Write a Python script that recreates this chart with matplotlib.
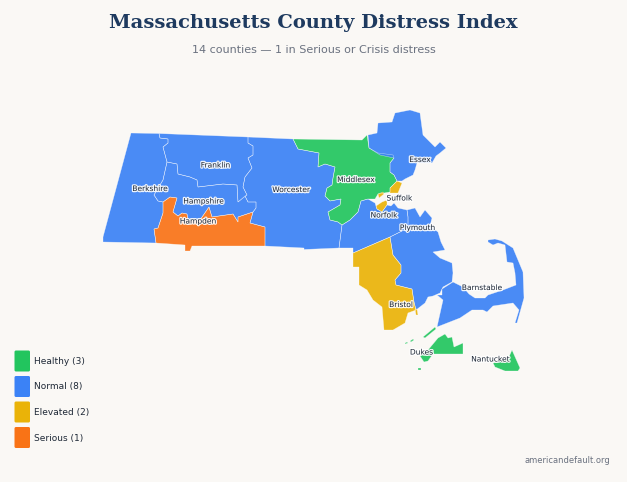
import matplotlib
matplotlib.use("Agg")
import matplotlib.pyplot as plt
from matplotlib.patches import FancyBboxPatch
import matplotlib.patheffects as pe

BG = "#faf8f5"
STATUS_COLORS = {"Healthy": "#22c55e", "Normal": "#3b82f6", "Elevated": "#eab308", "Serious": "#f97316"}

# county outlines, in map units
berkshire = [[(131, 133), (159, 133.5), (160, 138), (168, 139), (168, 143), (163, 147), (167, 162), (163, 180),
              (154, 195), (158, 201), (163, 202), (163, 213), (158, 228), (154, 229), (156, 243), (103, 242), (103, 237)]]
franklin = [[(159, 133.5), (248, 137), (248, 143), (253, 146), (253, 155), (248, 158), (252, 168), (245, 177),
             (243, 187), (247, 195), (238, 202), (237, 185), (223, 184), (198, 187), (197, 180), (190, 177),
             (178, 174), (177, 164), (167, 162), (163, 147), (168, 143), (168, 139), (160, 138)]]
hampshire = [[(167, 162), (177, 164), (178, 174), (190, 177), (197, 180), (198, 187), (223, 184), (237, 185),
              (238, 202), (245, 196), (248, 202), (256, 202), (256, 208), (253, 212), (238, 217), (238, 222),
              (233, 214), (212, 217), (209, 207), (200, 220), (188, 220), (187, 214), (182, 213), (178, 216),
              (173, 212), (177, 198), (170, 197), (163, 202), (158, 201), (154, 195), (163, 180)]]
hampden = [[(163, 202), (170, 197), (177, 198), (173, 212), (178, 216), (182, 213), (187, 214), (188, 220),
            (200, 220), (209, 207), (212, 217), (233, 214), (238, 222), (238, 217), (253, 212), (250, 223),
            (265, 227), (265, 246), (192, 246), (190, 251), (185, 251), (185, 245), (156, 243), (154, 229),
            (158, 228), (163, 213)]]
worcester = [[(248, 137), (293, 139), (298, 149), (319, 153), (318, 167), (325, 164), (335, 167), (333, 178),
              (332, 185), (327, 188), (325, 196), (330, 201), (341, 199), (340, 205), (328, 212), (330, 220),
              (338, 222), (342, 225), (339, 248), (304, 249.5), (304, 248), (265, 246), (265, 227), (250, 223),
              (253, 212), (256, 208), (256, 202), (248, 202), (245, 196), (247, 195), (243, 187), (245, 177),
              (252, 168), (248, 158), (253, 155), (253, 146), (248, 143)]]
middlesex = [[(293, 139), (362, 140), (367, 135), (369, 148), (378, 153), (393, 155), (394, 158), (390, 163),
              (390, 172), (394, 175), (397, 181), (390, 188), (390, 192), (378, 194), (375, 199), (368, 199),
              (361, 201), (358, 212), (350, 220), (342, 225), (338, 222), (330, 220), (328, 212), (340, 205),
              (341, 199), (330, 201), (325, 196), (327, 188), (332, 185), (333, 178), (335, 167), (325, 164),
              (318, 167), (319, 153), (298, 149)]]
essex = [[(368, 135), (377, 133), (378, 123), (392, 122), (395, 113), (410, 110), (420, 113), (423, 135), (435, 147),
          (440, 142), (446, 148), (440, 153), (436, 156), (432, 163), (417, 163), (415, 170), (413, 175), (405, 179),
          (402, 181), (397, 181), (394, 175), (390, 172), (390, 163), (394, 158), (380, 155), (369, 148)]]
suffolk = [[(390, 188), (397, 181), (402, 183), (398, 193), (390, 193)],
           [(378, 194), (383, 192), (384, 194), (379, 198)],
           [(376, 206), (382, 202), (387, 200), (387, 205), (382, 212), (377, 209)]]
norfolk = [[(342, 225), (350, 220), (358, 212), (361, 201), (368, 199), (375, 203), (376, 206), (377, 209),
            (382, 212), (387, 205), (391, 206), (394, 203), (398, 208), (407, 210), (408, 217), (408, 228),
            (390, 237), (353, 253), (353, 248), (339, 248)]]
plymouth = [[(407, 210), (415, 208), (420, 217), (425, 210), (432, 218), (430, 226), (438, 232), (441, 242),
             (445, 250), (433, 252), (440, 258), (452, 263), (453, 273), (452, 282), (443, 287), (440, 293),
             (433, 296), (428, 297), (425, 303), (416, 310), (414, 302), (412, 289), (396, 285), (395, 280),
             (401, 273), (401, 265), (393, 255), (390, 237), (408, 228), (408, 217)]]
bristol = [[(353, 253), (390, 237), (393, 255), (401, 265), (401, 273), (395, 280), (396, 285), (412, 289),
            (414, 302), (416, 310), (408, 313), (405, 323), (393, 330), (384, 330), (382, 307), (373, 300),
            (367, 290), (359, 285), (359, 267), (353, 267)],
           [(415, 309), (417, 309), (418, 315), (416, 315)]]
barnstable = [[(453, 282), (442, 289), (442, 295), (437, 295), (443, 300), (437, 327), (460, 318), (472, 310),
               (483, 310), (487, 312), (493, 306), (513, 303), (519, 310), (515, 323), (517, 323), (524, 298),
               (523, 272), (513, 248), (502, 241), (495, 239), (488, 240), (488, 242), (493, 245), (498, 243),
               (505, 245), (507, 262), (513, 263), (515, 273), (516, 285), (503, 290), (488, 295), (485, 298),
               (475, 298), (469, 294), (463, 287)]]
dukes = [[(428, 350), (438, 338), (445, 334), (448, 338), (452, 337), (454, 347), (463, 343), (463, 354),
          (433, 354), (428, 361), (424, 362), (420, 356)],
         [(423, 337), (435, 327), (436, 329), (425, 338)],
         [(410, 341), (413, 339), (414, 340), (411, 342)],
         [(405, 343), (407, 342), (408, 343), (405, 344)],
         [(418, 368), (421, 368), (421, 370), (418, 370)]]
nantucket = [[(493, 363), (498, 362), (508, 359), (512, 350), (520, 368), (518, 371), (505, 371), (495, 367)]]

county_names = ["Berkshire", "Franklin", "Hampshire", "Hampden", "Worcester", "Middlesex", "Essex",
                "Norfolk", "Suffolk", "Plymouth", "Bristol", "Barnstable", "Dukes", "Nantucket"]
county_shapes = [berkshire, franklin, hampshire, hampden, worcester, middlesex, essex,
                 norfolk, suffolk, plymouth, bristol, barnstable, dukes, nantucket]
county_status = ["Normal", "Normal", "Normal", "Serious", "Normal", "Healthy", "Normal",
                 "Normal", "Elevated", "Normal", "Elevated", "Normal", "Healthy", "Healthy"]
label_x = [150, 215.5, 203.5, 198, 291, 356, 420, 384, 399.5, 417.5, 401, 482, 421.5, 490.5]
label_y = [189, 165.5, 201.5, 221.5, 190, 180, 160, 215.5, 198.5, 228, 305, 288, 352.5, 359.5]

legend_labels = ["Healthy (3)", "Normal (8)", "Elevated (2)", "Serious (1)"]
legend_status = ["Healthy", "Normal", "Elevated", "Serious"]

fig = plt.figure(figsize=(6.27, 4.82), dpi=100, facecolor=BG)
ax = fig.add_axes([0, 0, 1, 1])
ax.set_xlim(0, 627)
ax.set_ylim(482, 0)
ax.axis("off")

for shape, status in zip(county_shapes, county_status):
    for part in shape:
        xs, ys = zip(*part)
        ax.fill(xs, ys, facecolor=STATUS_COLORS[status], alpha=0.92, edgecolor="none", zorder=2)
        ax.fill(xs, ys, facecolor="none", edgecolor="white", linewidth=0.35, alpha=0.6, zorder=3)

halo = [pe.withStroke(linewidth=1.8, foreground="white", alpha=0.9)]
for name, x, y in zip(county_names, label_x, label_y):
    ax.text(x, y, name, fontsize=5.4, color="#1f2937", ha="center", va="center",
            path_effects=halo, zorder=4)

ax.text(313, 23.5, "Massachusetts County Distress Index", fontsize=14, fontweight="bold",
        family="DejaVu Serif", color="#1e3a5f", ha="center", va="center")
ax.text(313.5, 50, "14 counties \u2014 1 in Serious or Crisis distress", fontsize=8,
        color="#6b7280", ha="center", va="center")

for i, (label, status) in enumerate(zip(legend_labels, legend_status)):
    top = 350.5 + i * 25.5
    ax.add_patch(FancyBboxPatch((14.5, top), 15.5, 21, boxstyle="round,pad=0,rounding_size=1.5",
                                facecolor=STATUS_COLORS[status], edgecolor="none", zorder=2))
    ax.text(34, top + 11, label, fontsize=6.5, color="#1f2937", ha="left", va="center")

ax.text(610.5, 460.5, "americandefault.org", fontsize=6, color="#6b7280", ha="right", va="center")

fig.savefig("out.png", dpi=100, facecolor=BG)
